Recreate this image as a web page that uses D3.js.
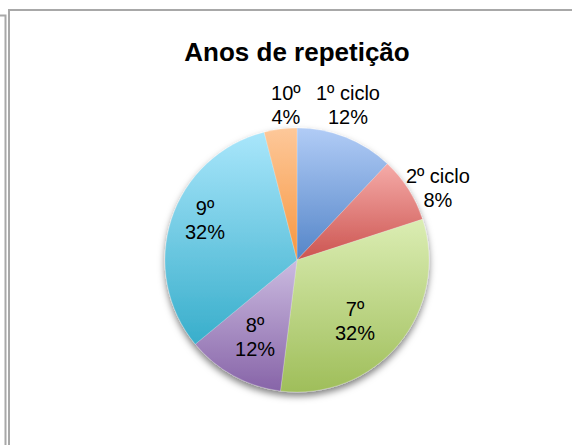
<!DOCTYPE html>
<html>
<head>
<meta charset="utf-8">
<script src="https://cdn.jsdelivr.net/npm/d3@7"></script>
<style>
  html, body { margin: 0; padding: 0; background: #fff; }
  svg { display: block; }
</style>
</head>
<body>
<svg id="chart" width="572" height="445"></svg>
<script>
// Repetition years, share of pupils (%)
const categories = ["1º ciclo", "2º ciclo", "7º", "8º", "9º", "10º"];
const percentages = [12, 8, 32, 12, 32, 4];
const percentLabels = ["12%", "8%", "32%", "12%", "32%", "4%"];

// Slice gradient colours (light top, darker bottom)
const topColors = ["#b1ccf6", "#f5aba8", "#dbedb3", "#cbbbe0", "#a9e6fb", "#fdc89a"];
const bottomColors = ["#5485c8", "#cc5450", "#9fbe5a", "#8764a8", "#38aecb", "#f7963f"];

// Label placement: radius as a fraction of the pie radius, and angle nudge in degrees
const labelRadius = [1.236, 1.2, 0.635, 0.664, 0.76, 1.177];
const labelNudge = [-3.4, 5.2, 6.6, -0.2, 5.5, 3.1];

const width = 572, height = 445;
const cx = 297, cy = 260, r = 132;

const svg = d3.select("#chart");
const defs = svg.append("defs");

// Frame lines of the chart area
const frame = svg.append("g").attr("fill", "none");
frame.append("path").attr("d", "M0,15.5H5.5V445").attr("stroke", "#a8a8a8").attr("stroke-width", 2);
frame.append("path").attr("d", "M9,445V10H572").attr("stroke", "#a8a8a8").attr("stroke-width", 2);

// Title
svg.append("text")
  .attr("x", cx).attr("y", 61)
  .attr("text-anchor", "middle")
  .attr("font-family", "'Liberation Sans', Arial, Helvetica, sans-serif")
  .attr("font-weight", "bold")
  .attr("font-size", 26)
  .attr("fill", "#000")
  .text("Anos de repetição");

// Soft drop shadow under the pie
const shadow = defs.append("filter").attr("id", "pieShadow")
  .attr("x", "-20%").attr("y", "-20%").attr("width", "140%").attr("height", "140%");
shadow.append("feDropShadow")
  .attr("dx", 0).attr("dy", 4).attr("stdDeviation", 3.5)
  .attr("flood-color", "#000").attr("flood-opacity", 0.5);

categories.forEach((c, i) => {
  const g = defs.append("linearGradient")
    .attr("id", "grad" + i)
    .attr("x1", 0).attr("y1", 0).attr("x2", 0).attr("y2", 1);
  g.append("stop").attr("offset", "0%").attr("stop-color", topColors[i]);
  g.append("stop").attr("offset", "100%").attr("stop-color", bottomColors[i]);
});

const pie = d3.pie().sort(null).value(d => d)
  .startAngle(0).endAngle(2 * Math.PI);
const arcs = pie(percentages);
const arc = d3.arc().innerRadius(0).outerRadius(r);

const pieG = svg.append("g")
  .attr("transform", `translate(${cx},${cy})`)
  .attr("filter", "url(#pieShadow)");

pieG.selectAll("path.slice")
  .data(arcs)
  .join("path")
  .attr("class", "slice")
  .attr("d", arc)
  .attr("fill", (d, i) => `url(#grad${i})`)
  .attr("stroke", "rgba(255,255,255,0.35)")
  .attr("stroke-width", 0.6);

// Data labels: category on the first line, percentage below
const fontSize = 20, lineGap = 24;
const labels = svg.append("g")
  .attr("font-family", "'Liberation Sans', Arial, Helvetica, sans-serif")
  .attr("font-size", fontSize)
  .attr("fill", "#000")
  .attr("text-anchor", "middle");

arcs.forEach((d, i) => {
  const mid = (d.startAngle + d.endAngle) / 2 + labelNudge[i] * Math.PI / 180;
  const rr = labelRadius[i] * r;
  const x = cx + rr * Math.sin(mid);
  const y = cy - rr * Math.cos(mid);
  const t = labels.append("text");
  t.append("tspan").attr("x", x).attr("y", y - lineGap / 2 + 0.36 * fontSize).text(categories[i]);
  t.append("tspan").attr("x", x).attr("y", y + lineGap / 2 + 0.36 * fontSize).text(percentLabels[i]);
});
</script>
</body>
</html>
